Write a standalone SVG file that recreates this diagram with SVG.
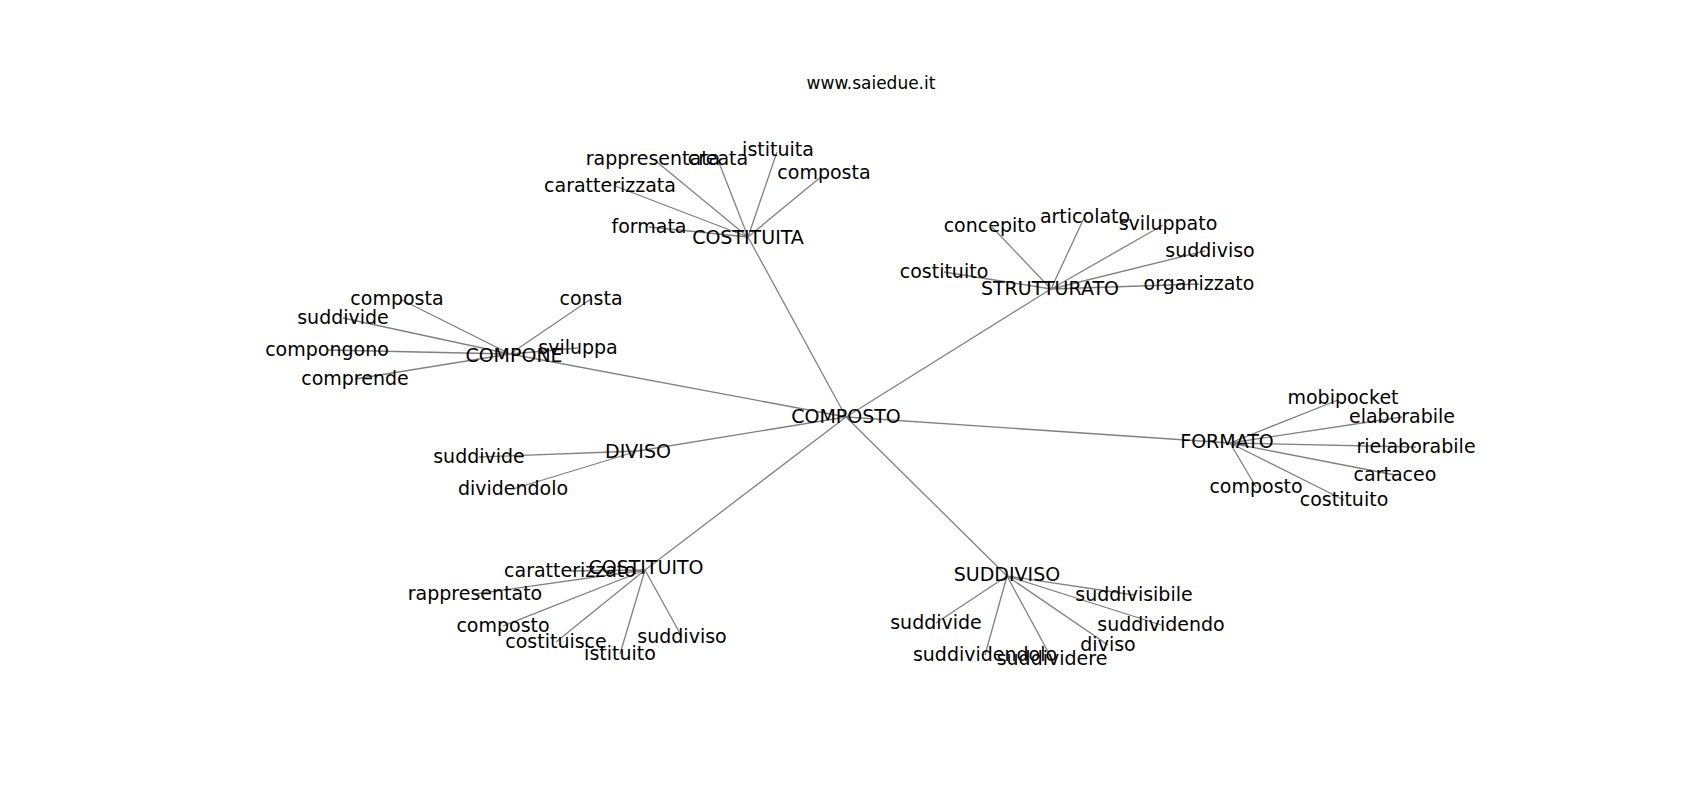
<svg xmlns="http://www.w3.org/2000/svg" width="1700" height="800" viewBox="0 0 1700 800">
<style>
.e{stroke:#808080;stroke-width:1.3;fill:none}
text{font-family:"DejaVu Sans",sans-serif;font-size:19px;fill:#000;text-anchor:middle}
.t{font-size:17px}
</style>
<rect width="1700" height="800" fill="#fff"/>
<text class="t" x="871" y="89">www.saiedue.it</text>
<g id="edges">
<path class="e" d="M846 417L748 237M846 417L1051 289M846 417L510 354M846 417L638 451M846 417L1230 443M846 417L645 570M846 417L1007 576"/>
<path class="e" d="M748 237L657 162M748 237L718 160M748 237L777 152M748 237L822 176M748 237L615 186M748 237L649 227"/>
<path class="e" d="M1051 289L992 227M1051 289L1084 218M1051 289L1163 225M1051 289L1205 251M1051 289L944 272M1051 289L1199 284"/>
<path class="e" d="M510 354L402 300M510 354L343 318M510 354L327 350M510 354L355 379M510 354L591 299M510 354L578 348"/>
<path class="e" d="M638 451L479 457M638 451L513 489"/>
<path class="e" d="M1230 443L1338 400M1230 443L1402 417M1230 443L1416 447M1230 443L1395 475M1230 443L1256 487M1230 443L1344 500"/>
<path class="e" d="M645 570L570 571M645 570L475 594M645 570L503 626M645 570L556 642M645 570L620 654M645 570L682 637"/>
<path class="e" d="M1007 576L1134 595M1007 576L1161 625M1007 576L1108 645M1007 576L1052 659M1007 576L985 655M1007 576L936 623"/>
</g>
<g id="n-composto"><text x="846" y="423">COMPOSTO</text></g>
<g id="n-costituita"><text x="748" y="244">COSTITUITA</text></g>
<g id="n-costituita-rappresentata"><text x="653" y="165">rappresentata</text></g>
<g id="n-costituita-creata"><text x="718" y="165">creata</text></g>
<g id="n-costituita-istituita"><text x="778" y="156">istituita</text></g>
<g id="n-costituita-composta"><text x="824" y="179">composta</text></g>
<g id="n-costituita-caratterizzata"><text x="610" y="192">caratterizzata</text></g>
<g id="n-costituita-formata"><text x="649" y="233">formata</text></g>
<g id="n-strutturato"><text x="1050" y="295">STRUTTURATO</text></g>
<g id="n-strutturato-concepito"><text x="990" y="232">concepito</text></g>
<g id="n-strutturato-articolato"><text x="1085" y="223">articolato</text></g>
<g id="n-strutturato-sviluppato"><text x="1168" y="230">sviluppato</text></g>
<g id="n-strutturato-suddiviso"><text x="1210" y="257">suddiviso</text></g>
<g id="n-strutturato-costituito"><text x="944" y="278">costituito</text></g>
<g id="n-strutturato-organizzato"><text x="1199" y="290">organizzato</text></g>
<g id="n-compone"><text x="514" y="362">COMPONE</text></g>
<g id="n-compone-composta"><text x="397" y="305">composta</text></g>
<g id="n-compone-suddivide"><text x="343" y="324">suddivide</text></g>
<g id="n-compone-compongono"><text x="327" y="356">compongono</text></g>
<g id="n-compone-comprende"><text x="355" y="385">comprende</text></g>
<g id="n-compone-consta"><text x="591" y="305">consta</text></g>
<g id="n-compone-sviluppa"><text x="578" y="354">sviluppa</text></g>
<g id="n-diviso"><text x="638" y="458">DIVISO</text></g>
<g id="n-diviso-suddivide"><text x="479" y="463">suddivide</text></g>
<g id="n-diviso-dividendolo"><text x="513" y="495">dividendolo</text></g>
<g id="n-formato"><text x="1227" y="448">FORMATO</text></g>
<g id="n-formato-mobipocket"><text x="1343" y="404">mobipocket</text></g>
<g id="n-formato-elaborabile"><text x="1402" y="423">elaborabile</text></g>
<g id="n-formato-rielaborabile"><text x="1416" y="453">rielaborabile</text></g>
<g id="n-formato-cartaceo"><text x="1395" y="481">cartaceo</text></g>
<g id="n-formato-composto"><text x="1256" y="493">composto</text></g>
<g id="n-formato-costituito"><text x="1344" y="506">costituito</text></g>
<g id="n-costituito"><text x="646" y="574">COSTITUITO</text></g>
<g id="n-costituito-caratterizzato"><text x="570" y="577">caratterizzato</text></g>
<g id="n-costituito-rappresentato"><text x="475" y="600">rappresentato</text></g>
<g id="n-costituito-composto"><text x="503" y="632">composto</text></g>
<g id="n-costituito-costituisce"><text x="556" y="648">costituisce</text></g>
<g id="n-costituito-istituito"><text x="620" y="660">istituito</text></g>
<g id="n-costituito-suddiviso"><text x="682" y="643">suddiviso</text></g>
<g id="n-suddiviso"><text x="1007" y="581">SUDDIVISO</text></g>
<g id="n-suddiviso-suddivisibile"><text x="1134" y="601">suddivisibile</text></g>
<g id="n-suddiviso-suddividendo"><text x="1161" y="631">suddividendo</text></g>
<g id="n-suddiviso-diviso"><text x="1108" y="651">diviso</text></g>
<g id="n-suddiviso-suddividere"><text x="1052" y="665">suddividere</text></g>
<g id="n-suddiviso-suddividendolo"><text x="985" y="661">suddividendolo</text></g>
<g id="n-suddiviso-suddivide"><text x="936" y="629">suddivide</text></g>
</svg>
